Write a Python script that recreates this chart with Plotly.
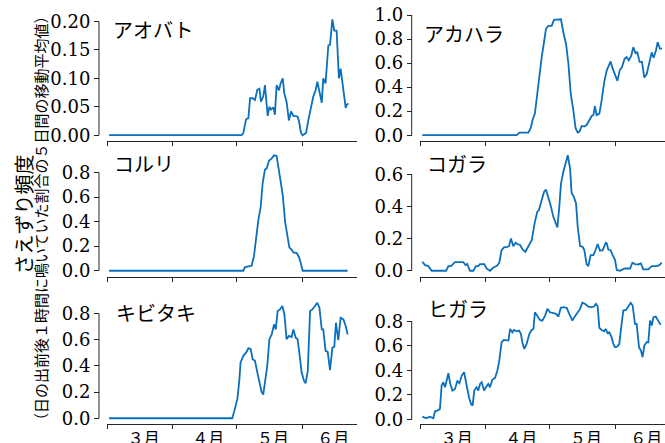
import plotly.graph_objects as go

W, H = 665, 443

# ---- data (x = days since 3月1日) ----
species = ["アオバト", "アカハラ", "コルリ", "コガラ", "キビタキ", "ヒガラ"]

aobato_day = [1, 63.5, 64.3, 65.6, 66.7, 67.5, 68.7, 69.8, 70.9, 71.9,
              72.6, 73.7, 74.5, 75, 75.8, 76.6, 77.4, 78.5, 79.2, 80,
              81.1, 81.9, 82.9, 83.6, 84.7, 85.8, 86.8, 87.9, 89.9, 90.6,
              91.5, 92.3, 93.9, 95, 96.2, 97.3, 98.4, 99.2, 100.2, 101.3,
              102, 103.1, 104.4, 105.2, 106.3, 107.2, 108.3, 109.4, 110.2, 111.5,
              112.6, 113, 113.8]
aobato_val = [0, 0, 0.004, 0.028, 0.03, 0.065, 0.065, 0.062, 0.08, 0.082,
              0.059, 0.068, 0.088, 0.068, 0.034, 0.05, 0.045, 0.049, 0.036, 0.088,
              0.079, 0.091, 0.1, 0.074, 0.059, 0.026, 0.042, 0.034, 0.033, 0.024,
              0.004, 0, 0.004, 0.027, 0.05, 0.068, 0.079, 0.094, 0.077, 0.057,
              0.1, 0.091, 0.158, 0.159, 0.204, 0.184, 0.184, 0.1, 0.117, 0.077,
              0.048, 0.053, 0.056]

akahara_day = [1.1, 45.6, 46.9, 51.1, 52.2, 53.1, 54.2, 55.3, 56.3, 57.4,
               58.5, 59.4, 60.5, 62.1, 63.2, 65.2, 66.5, 67.6, 68.9, 70,
               71.1, 72.3, 73.4, 74.4, 75.2, 76.3, 77.4, 78.6, 79.9, 81,
               81.8, 82.5, 83.3, 84.6, 85.7, 86.9, 88.1, 89.3, 89.9, 90.9,
               92, 93.1, 94.2, 95.3, 96.5, 97.4, 98.5, 99.7, 100.6, 101.7,
               102.5, 103.6, 104.7, 105.8, 106.9, 108.2, 109.3, 110.2, 111.3, 112.1,
               113.2, 114.2]
akahara_val = [0, 0, 0.022, 0.022, 0.058, 0.127, 0.18, 0.35, 0.485, 0.65,
               0.774, 0.884, 0.91, 0.91, 0.96, 0.96, 0.965, 0.857, 0.76, 0.595,
               0.347, 0.21, 0.058, 0.022, 0.03, 0.077, 0.072, 0.085, 0.127, 0.16,
               0.168, 0.242, 0.168, 0.18, 0.292, 0.444, 0.54, 0.6, 0.614, 0.554,
               0.5, 0.452, 0.54, 0.567, 0.636, 0.65, 0.623, 0.664, 0.733, 0.683,
               0.69, 0.61, 0.61, 0.48, 0.507, 0.61, 0.69, 0.645, 0.705, 0.774,
               0.72, 0.72]

koruri_day = [1, 64.3, 65.1, 67.1, 68.2, 69.3, 70.3, 71.4, 72.5, 73.4,
              74.5, 75.3, 76.4, 77.7, 78.8, 80, 81.3, 82.9, 84, 85.1,
              86, 87.1, 87.9, 89.5, 90.6, 91.4, 92.3, 113.5]
koruri_val = [0, 0, 0.03, 0.035, 0.04, 0.116, 0.278, 0.414, 0.52, 0.71,
              0.824, 0.832, 0.895, 0.914, 0.94, 0.935, 0.792, 0.616, 0.4, 0.278,
              0.19, 0.17, 0.149, 0.143, 0.11, 0.062, 0, 0]

kogara_day = [1.1, 2.4, 3.9, 5.5, 12.3, 13.4, 14.6, 15.7, 16.5, 20.4,
              21.5, 22.3, 23.6, 25.2, 26.4, 27.5, 28.3, 30.3, 31.4, 33,
              34.6, 36.2, 37.4, 38.5, 39.6, 41.2, 42, 42.9, 44, 45.1,
              45.9, 47.2, 48.4, 49.7, 51.1, 52.7, 54.2, 55.3, 56.1, 57.4,
              58.5, 59.4, 60.5, 61.6, 62.9, 64.2, 64.8, 65.7, 66.5, 67.6,
              68.7, 69.7, 70.8, 71.5, 72.6, 73.6, 74.4, 75.5, 76.7, 77.5,
              78.6, 79.4, 80.5, 81.8, 82.9, 83.8, 84.9, 86.2, 87.6, 88.1,
              88.8, 89.9, 90.9, 92, 92.8, 94.3, 95.6, 96.7, 99.1, 100.2,
              101.4, 103, 104.2, 105.3, 107.7, 109.3, 111.6, 112.9, 114]
kogara_val = [0.056, 0.035, 0.029, 0, 0, 0.029, 0.029, 0.041, 0.054, 0.054,
              0.035, 0.041, 0, 0, 0.029, 0.029, 0.041, 0.041, 0.014, 0,
              0.02, 0.029, 0.05, 0.128, 0.145, 0.149, 0.153, 0.2, 0.153, 0.174,
              0.166, 0.16, 0.132, 0.118, 0.149, 0.19, 0.304, 0.366, 0.377, 0.449,
              0.49, 0.505, 0.463, 0.408, 0.335, 0.283, 0.269, 0.397, 0.542, 0.614,
              0.677, 0.718, 0.635, 0.484, 0.459, 0.418, 0.273, 0.153, 0.149, 0.128,
              0.041, 0.029, 0.097, 0.097, 0.132, 0.166, 0.124, 0.128, 0.174, 0.17,
              0.132, 0.128, 0.097, 0.066, 0.004, 0, 0.008, 0.014, 0.014, 0.05,
              0.041, 0.039, 0.045, 0.008, 0.008, 0.029, 0.029, 0.035, 0.05]

kibitaki_day = [1, 59.1, 60.1, 61.5, 62.4, 63, 64.3, 65.6, 66.7, 67.8,
                68.7, 69.8, 70.9, 72.2, 72.9, 73.7, 74.8, 75.6, 76.6, 77.7,
                78.8, 79.6, 80.5, 81.6, 82.7, 83.7, 84.7, 85.8, 87.1, 87.9,
                89, 89.9, 91, 91.8, 92.9, 93.7, 94.7, 95.8, 96.9, 97.8,
                99.2, 100.2, 101.3, 102, 103.1, 104.1, 105.2, 106.3, 107.2, 108,
                109.1, 110.2, 111.5, 112.6, 113.5]
kibitaki_val = [0, 0, 0.058, 0.147, 0.286, 0.425, 0.476, 0.5, 0.534, 0.527,
                0.451, 0.438, 0.35, 0.235, 0.203, 0.18, 0.324, 0.4, 0.603, 0.64,
                0.716, 0.678, 0.818, 0.83, 0.856, 0.792, 0.603, 0.628, 0.62, 0.678,
                0.615, 0.603, 0.463, 0.35, 0.286, 0.266, 0.362, 0.818, 0.83, 0.848,
                0.881, 0.843, 0.678, 0.678, 0.514, 0.506, 0.367, 0.539, 0.544, 0.729,
                0.595, 0.767, 0.754, 0.704, 0.64]

higara_day = [1.1, 2.4, 3.5, 4.7, 6.3, 7.1, 8.2, 9.4, 10.2, 11,
              11.8, 12.6, 13.4, 14.2, 15.3, 16.5, 17.6, 18.6, 19.7, 20.8,
              22, 23.1, 24.1, 24.8, 25.6, 26.7, 27.5, 28.3, 29.1, 30.2,
              31.1, 32.2, 33, 34.1, 35.4, 36.5, 37.4, 38.5, 39.6, 41.7,
              42.5, 43.6, 44.3, 45.6, 46.7, 47.6, 48.4, 49.2, 50.3, 51.6,
              52.7, 53.5, 54.2, 55.3, 56.6, 57.7, 59, 60.1, 61.3, 62.9,
              64.2, 65.3, 66.4, 67.6, 69.2, 70.4, 71.9, 72.8, 74.2, 75.5,
              76.6, 77.8, 79.4, 81, 82.1, 83, 83.8, 84.6, 85.7, 86.8,
              87.6, 88.5, 89.3, 90.4, 91.2, 92, 93.2, 94, 95.1, 95.9,
              97.2, 98.3, 99.4, 100.3, 101.4, 102.2, 103.3, 104.2, 105, 105.8,
              106.9, 107.7, 108.5, 109.3, 110.1, 111.2, 112.4, 113.5]
higara_val = [0.024, 0.014, 0.014, 0.024, 0.011, 0.068, 0.073, 0.087, 0.277, 0.304,
              0.263, 0.317, 0.377, 0.296, 0.236, 0.249, 0.312, 0.296, 0.358, 0.385,
              0.263, 0.182, 0.127, 0.114, 0.236, 0.263, 0.236, 0.29, 0.304, 0.236,
              0.263, 0.29, 0.263, 0.323, 0.339, 0.399, 0.48, 0.629, 0.648, 0.643,
              0.737, 0.71, 0.729, 0.718, 0.724, 0.697, 0.616, 0.575, 0.616, 0.697,
              0.729, 0.737, 0.873, 0.846, 0.81, 0.805, 0.846, 0.9, 0.873, 0.865,
              0.86, 0.838, 0.909, 0.914, 0.909, 0.86, 0.805, 0.833, 0.865, 0.9,
              0.95, 0.941, 0.919, 0.914, 0.919, 0.941, 0.919, 0.746, 0.729, 0.718,
              0.737, 0.702, 0.71, 0.67, 0.616, 0.589, 0.594, 0.616, 0.778, 0.887,
              0.892, 0.919, 0.95, 0.928, 0.778, 0.778, 0.589, 0.561, 0.507, 0.602,
              0.629, 0.629, 0.805, 0.765, 0.833, 0.838, 0.805, 0.77]

y_ticks_small = [0.0, 0.05, 0.10, 0.15, 0.20]
y_ticks_1 = [0.0, 0.2, 0.4, 0.6, 0.8, 1.0]
y_ticks_08 = [0.0, 0.2, 0.4, 0.6, 0.8]
y_ticks_06 = [0.0, 0.2, 0.4, 0.6]

month_starts = [0, 31, 61, 92]
month_ends = [31, 61, 92, 122]
month_labels = ["３月", "４月", "５月", "６月"]

ylabel_main = "さえずり頻度"
ylabel_sub = "（日の出前後１時間に鳴いていた割合の５日間の移動平均値）"

series = [
    (aobato_day, aobato_val, y_ticks_small, ".2f"),
    (akahara_day, akahara_val, y_ticks_1, ".1f"),
    (koruri_day, koruri_val, y_ticks_08, ".1f"),
    (kogara_day, kogara_val, y_ticks_06, ".1f"),
    (kibitaki_day, kibitaki_val, y_ticks_08, ".1f"),
    (higara_day, higara_val, y_ticks_08, ".1f"),
]
for d, v, _, _ in series:
    assert len(d) == len(v)

# ---- layout geometry (pixels) ----
PX_PER_DAY = 2.12
col_x = [(107, 357), (420, 670)]      # axes left/right
col_spine = [99, 411.7]               # y spine x
row_y = [(13.5, 141), (149.5, 276.5), (297, 424)]  # axes top/bottom
title_pos = [(110.5, 29.5), (421.5, 33.3), (111.5, 163.3),
             (424.5, 163.3), (113.5, 312.3), (426.5, 308.3)]

LINE_COLOR = "#0a6fbd"
AX_COLOR = "#262626"
TICK_FONT = dict(family="DejaVu Serif", size=18, color="black")
CJK = "Noto Sans CJK JP"

fig = go.Figure()
shapes = []
annotations = []

for i, (days, vals, yt, fmt) in enumerate(series):
    r, c = divmod(i, 2)
    n = i + 1
    xa = "x" if n == 1 else f"x{n}"
    ya = "y" if n == 1 else f"y{n}"
    fig.add_trace(go.Scatter(x=days, y=vals, mode="lines",
                             line=dict(color=LINE_COLOR, width=1.8),
                             xaxis=xa, yaxis=ya, showlegend=False,
                             hoverinfo="skip"))
    x0, x1 = col_x[c]
    top, bot = row_y[r]
    xr_end = (x1 - x0) / PX_PER_DAY
    x1c = min(x1, W)
    xrange = [0, (x1c - x0) / PX_PER_DAY]
    lab_pos = [(s + min(e, xr_end)) / 2 + 1.8 for s, e in zip(month_starts, month_ends)]
    vmin, vmax = min(vals), max(vals)
    pad = 0.05 * (vmax - vmin)
    yrange = [vmin - pad, vmax + pad]
    xkey = "xaxis" if n == 1 else f"xaxis{n}"
    ykey = "yaxis" if n == 1 else f"yaxis{n}"
    fig.layout[xkey] = dict(
        domain=[x0 / W, x1c / W], range=xrange, anchor=ya, automargin=False,
        showline=True, linecolor=AX_COLOR, linewidth=1,
        tickvals=lab_pos, ticktext=month_labels, ticks="",
        showticklabels=(r == 2),
        tickfont=dict(family=CJK, size=16, color="black"),
        minor=dict(tickvals=month_starts, ticks="outside", ticklen=4,
                   tickcolor=AX_COLOR, tickwidth=1, showgrid=False),
        showgrid=False, zeroline=False, fixedrange=True)
    fig.layout[ykey] = dict(
        domain=[1 - bot / H, 1 - top / H], range=yrange, automargin=False,
        anchor="free", position=col_spine[c] / W,
        tickvals=yt, ticktext=[format(t, fmt) for t in yt],
        ticks="outside", ticklen=5, tickcolor=AX_COLOR, tickwidth=1,
        tickfont=TICK_FONT, showline=False, showgrid=False, zeroline=False,
        fixedrange=True)
    shapes.append(dict(type="line", xref="paper", yref=ya,
                       x0=col_spine[c] / W, x1=col_spine[c] / W,
                       y0=yt[0], y1=yt[-1],
                       line=dict(color=AX_COLOR, width=1)))
    tx, ty = title_pos[i]
    annotations.append(dict(text=species[i], xref="paper", yref="paper",
                            x=tx / W, y=1 - ty / H, xanchor="left",
                            yanchor="middle", showarrow=False,
                            font=dict(family=CJK, size=20, color="black")))

annotations.append(dict(text=ylabel_main, xref="paper", yref="paper",
                        x=22.5 / W, y=1 - 215 / H, textangle=-90,
                        xanchor="center", yanchor="middle", showarrow=False,
                        font=dict(family=CJK, size=20, color="black")))
annotations.append(dict(text=ylabel_sub, xref="paper", yref="paper",
                        x=40 / W, y=1 - 218 / H, textangle=-90,
                        xanchor="center", yanchor="middle", showarrow=False,
                        font=dict(family=CJK, size=15, color="black")))

fig.update_layout(width=W, height=H, margin=dict(l=0, r=0, t=0, b=0, autoexpand=False),
                  paper_bgcolor="white", plot_bgcolor="white",
                  shapes=shapes, annotations=annotations, showlegend=False)

fig.write_html("out.html", config={"displayModeBar": False, "staticPlot": True},
               post_script="document.body.style.margin='0';document.body.style.overflow='hidden';")
